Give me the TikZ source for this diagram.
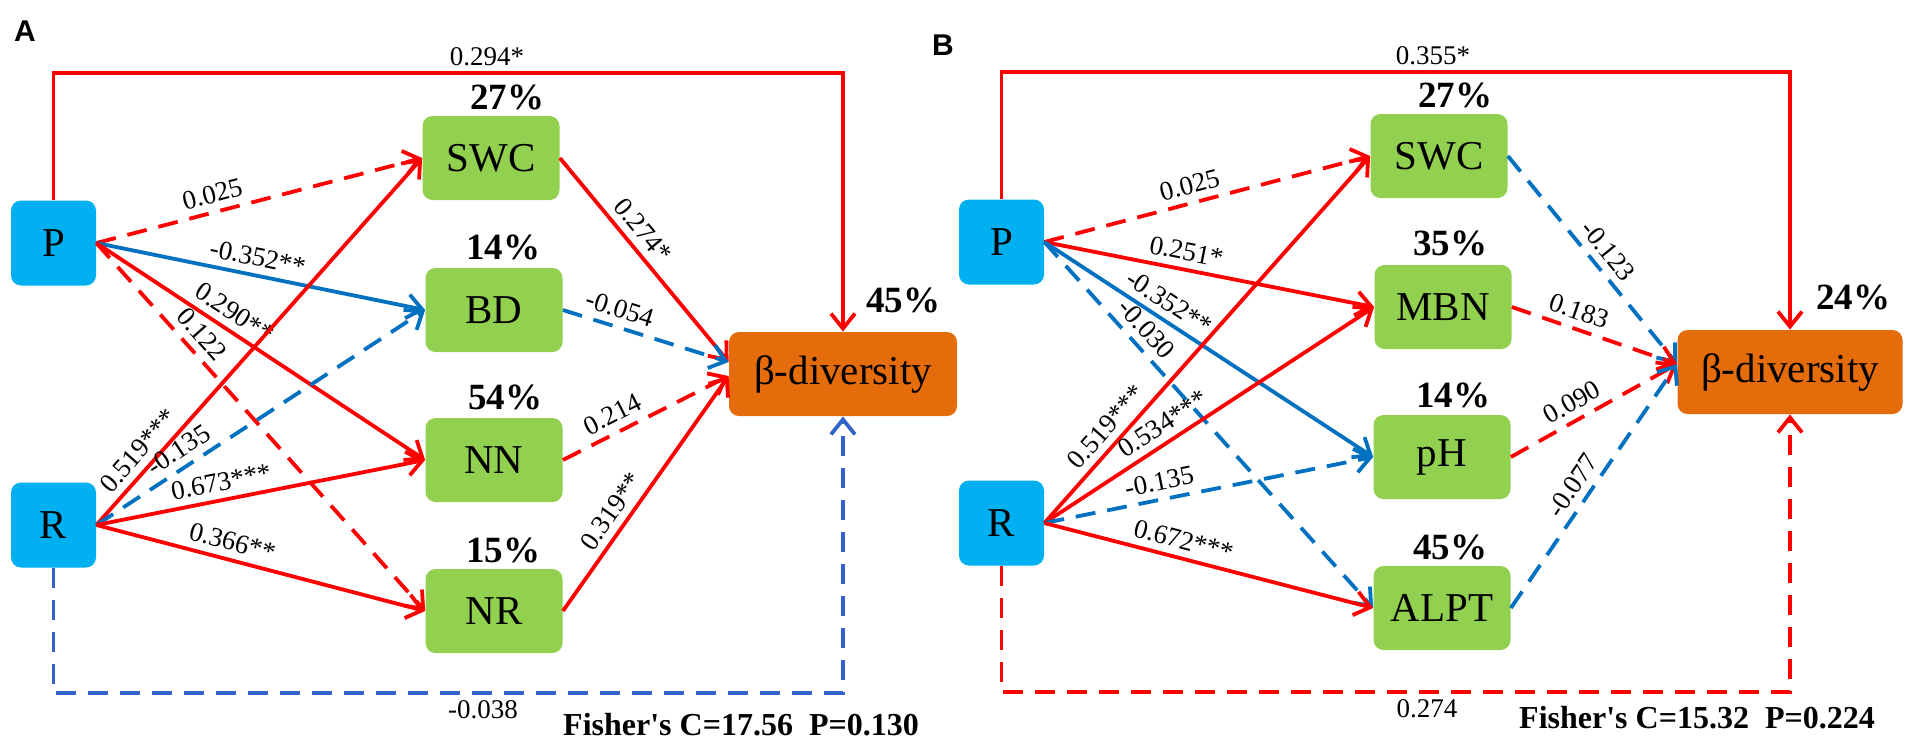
\documentclass[tikz,border=0pt]{standalone}
\usepackage{fontspec}
\setmainfont{Liberation Serif}
\newfontfamily\panelfont{Liberation Sans}
\usetikzlibrary{arrows.meta}

\definecolor{boxblue}{RGB}{0,176,240}
\definecolor{boxgreen}{RGB}{146,208,80}
\definecolor{boxorange}{RGB}{228,108,10}
\definecolor{pathred}{RGB}{255,0,0}
\definecolor{pathblue}{RGB}{0,112,192}
\definecolor{pathblue2}{RGB}{50,100,200}

\tikzset{
  box/.style={rounded corners=5pt, inner sep=2pt, font=\fontsize{20.5}{24}\selectfont},
  driver/.style={box, fill=boxblue, minimum width=42.5pt, minimum height=42.5pt},
  soil/.style={box, fill=boxgreen, minimum width=68.5pt, minimum height=42pt},
  div/.style={box, fill=boxorange, minimum width=114pt, minimum height=42pt},
  pct/.style={font=\bfseries\fontsize{18.5}{20}\selectfont},
  val/.style={font=\fontsize{13.5}{15}\selectfont},
  coef/.style={val, sloped, above, inner sep=3.5pt},
  fisher/.style={font=\bfseries\fontsize{16}{18}\selectfont},
  panel/.style={font=\panelfont\bfseries\fontsize{15}{18}\selectfont},
  redline/.style={draw=pathred, line width=1.9pt, -{Straight Barb[length=7.5pt,width=12pt]}},
  reddash/.style={redline, dash pattern=on 10pt off 6pt},
  blueline/.style={redline, draw=pathblue},
  bluedash/.style={reddash, draw=pathblue},
  bluedash2/.style={reddash, draw=pathblue2}
}

\begin{document}
\begin{tikzpicture}[x=0.5pt,y=-0.5pt]
        \useasboundingbox (0,0) rectangle (1908,741);
        %panel A
        \node[panel] (labA) at (25,31) {A};
        \node[driver] (pA) at (53.5,243) {P};
        \node[driver] (rA) at (53.5,525) {R};
        \node[soil] (swcA) at (491,158) {SWC};
        \node[soil] (bdA) at (494,310) {BD};
        \node[soil] (nnA) at (494,460) {NN};
        \node[soil] (nrA) at (494,611) {NR};
        \node[div] (divA) at (843,374) {β-diversity};
        \foreach \n/\x/\y/\t in {swc/507/97/27, bd/503/247/14, nn/505/397/54, nr/503/550/15, div/903/300/45}
            \node[pct] (\n pctA) at (\x,\y) {\t\%};
        \coordinate (inA1) at ([yshift=6pt]divA.west);
        \coordinate (inA2) at ([yshift=-1pt]divA.west);
        %paths A
        \foreach \a/\b/\s/\p/\t in {pA/swcA/reddash/0.37/0.025, pA/bdA/blueline/0.48/-0.352**,
                pA/nnA/redline/0.39/0.290**, pA/nrA/reddash/0.28/0.122,
                rA/swcA/redline/0.17/0.519***, rA/bdA/bluedash/0.28/-0.135,
                rA/nnA/redline/0.39/0.673***, rA/nrA/redline/0.40/0.366**}
            \draw[\s] (\a.east) -- (\b.west) node[coef, pos=\p] {\t};
        \foreach \a/\b/\s/\p/\t in {swcA/inA1/redline/0.41/0.274*, bdA/inA1/bluedash/0.31/-0.054,
                nnA/inA2/reddash/0.35/0.214, nrA/inA2/redline/0.38/0.319**}
            \draw[\s] (\a.east) -- (\b) node[coef, pos=\p] {\t};
        \coordinate (topA) at (487,73);
        \coordinate (botA) at (483,693);
        \draw[redline] (pA.north) |- (topA) -| (divA.north);
        \draw[bluedash2] (rA.south) |- (botA) -| (divA.south);
        \node[val, above] (cTopA) at (topA) {0.294*};
        \node[val, below] (cBotA) at (botA) {-0.038};
        \node[fisher] (fitA) at (741,725) {Fisher\textquotesingle s C=17.56\ \ P=0.130};

        %panel B
        \node[panel] (labB) at (943,45) {B};
        \node[driver] (pB) at (1001.5,242) {P};
        \node[driver] (rB) at (1001.5,523) {R};
        \node[soil] (swcB) at (1439,156) {SWC};
        \node[soil] (mbnB) at (1443,307) {MBN};
        \node[soil] (phB) at (1442,457) {pH};
        \node[soil] (alptB) at (1442,608) {ALPT};
        \node[div, minimum width=112.5pt] (divB) at (1790,372) {β-diversity};
        \foreach \n/\x/\y/\t in {swc/1455/95/27, mbn/1450/243/35, ph/1453/395/14, alpt/1450/547/45, div/1853/297/24}
            \node[pct] (\n pctB) at (\x,\y) {\t\%};
        \coordinate (inB) at ([yshift=4pt]divB.west);
        %paths B
        \foreach \a/\b/\s/\p/\t in {pB/swcB/reddash/0.46/0.025, pB/mbnB/redline/0.42/0.251*,
                pB/phB/blueline/0.35/-0.352**, pB/alptB/bluedash/0.27/-0.030,
                rB/swcB/redline/0.23/0.519***, rB/mbnB/redline/0.39/0.534***,
                rB/phB/bluedash/0.36/-0.135, rB/alptB/redline/0.41/0.672***}
            \draw[\s] (\a.east) -- (\b.west) node[coef, pos=\p] {\t};
        \foreach \a/\s/\p/\t in {swcB/bluedash/0.51/-0.123, mbnB/reddash/0.37/0.183,
                phB/reddash/0.42/0.090, alptB/bluedash/0.46/-0.077}
            \draw[\s] (\a.east) -- (inB) node[coef, pos=\p] {\t};
        \coordinate (topB) at (1433,72);
        \coordinate (botB) at (1427,692);
        \draw[redline] (pB.north) |- (topB) -| (divB.north);
        \draw[reddash] (rB.south) |- (botB) -| (divB.south);
        \node[val, above] (cTopB) at (topB) {0.355*};
        \node[val, below] (cBotB) at (botB) {0.274};
        \node[fisher] (fitB) at (1697,718) {Fisher\textquotesingle s C=15.32\ \ P=0.224};
\end{tikzpicture}
\end{document}
